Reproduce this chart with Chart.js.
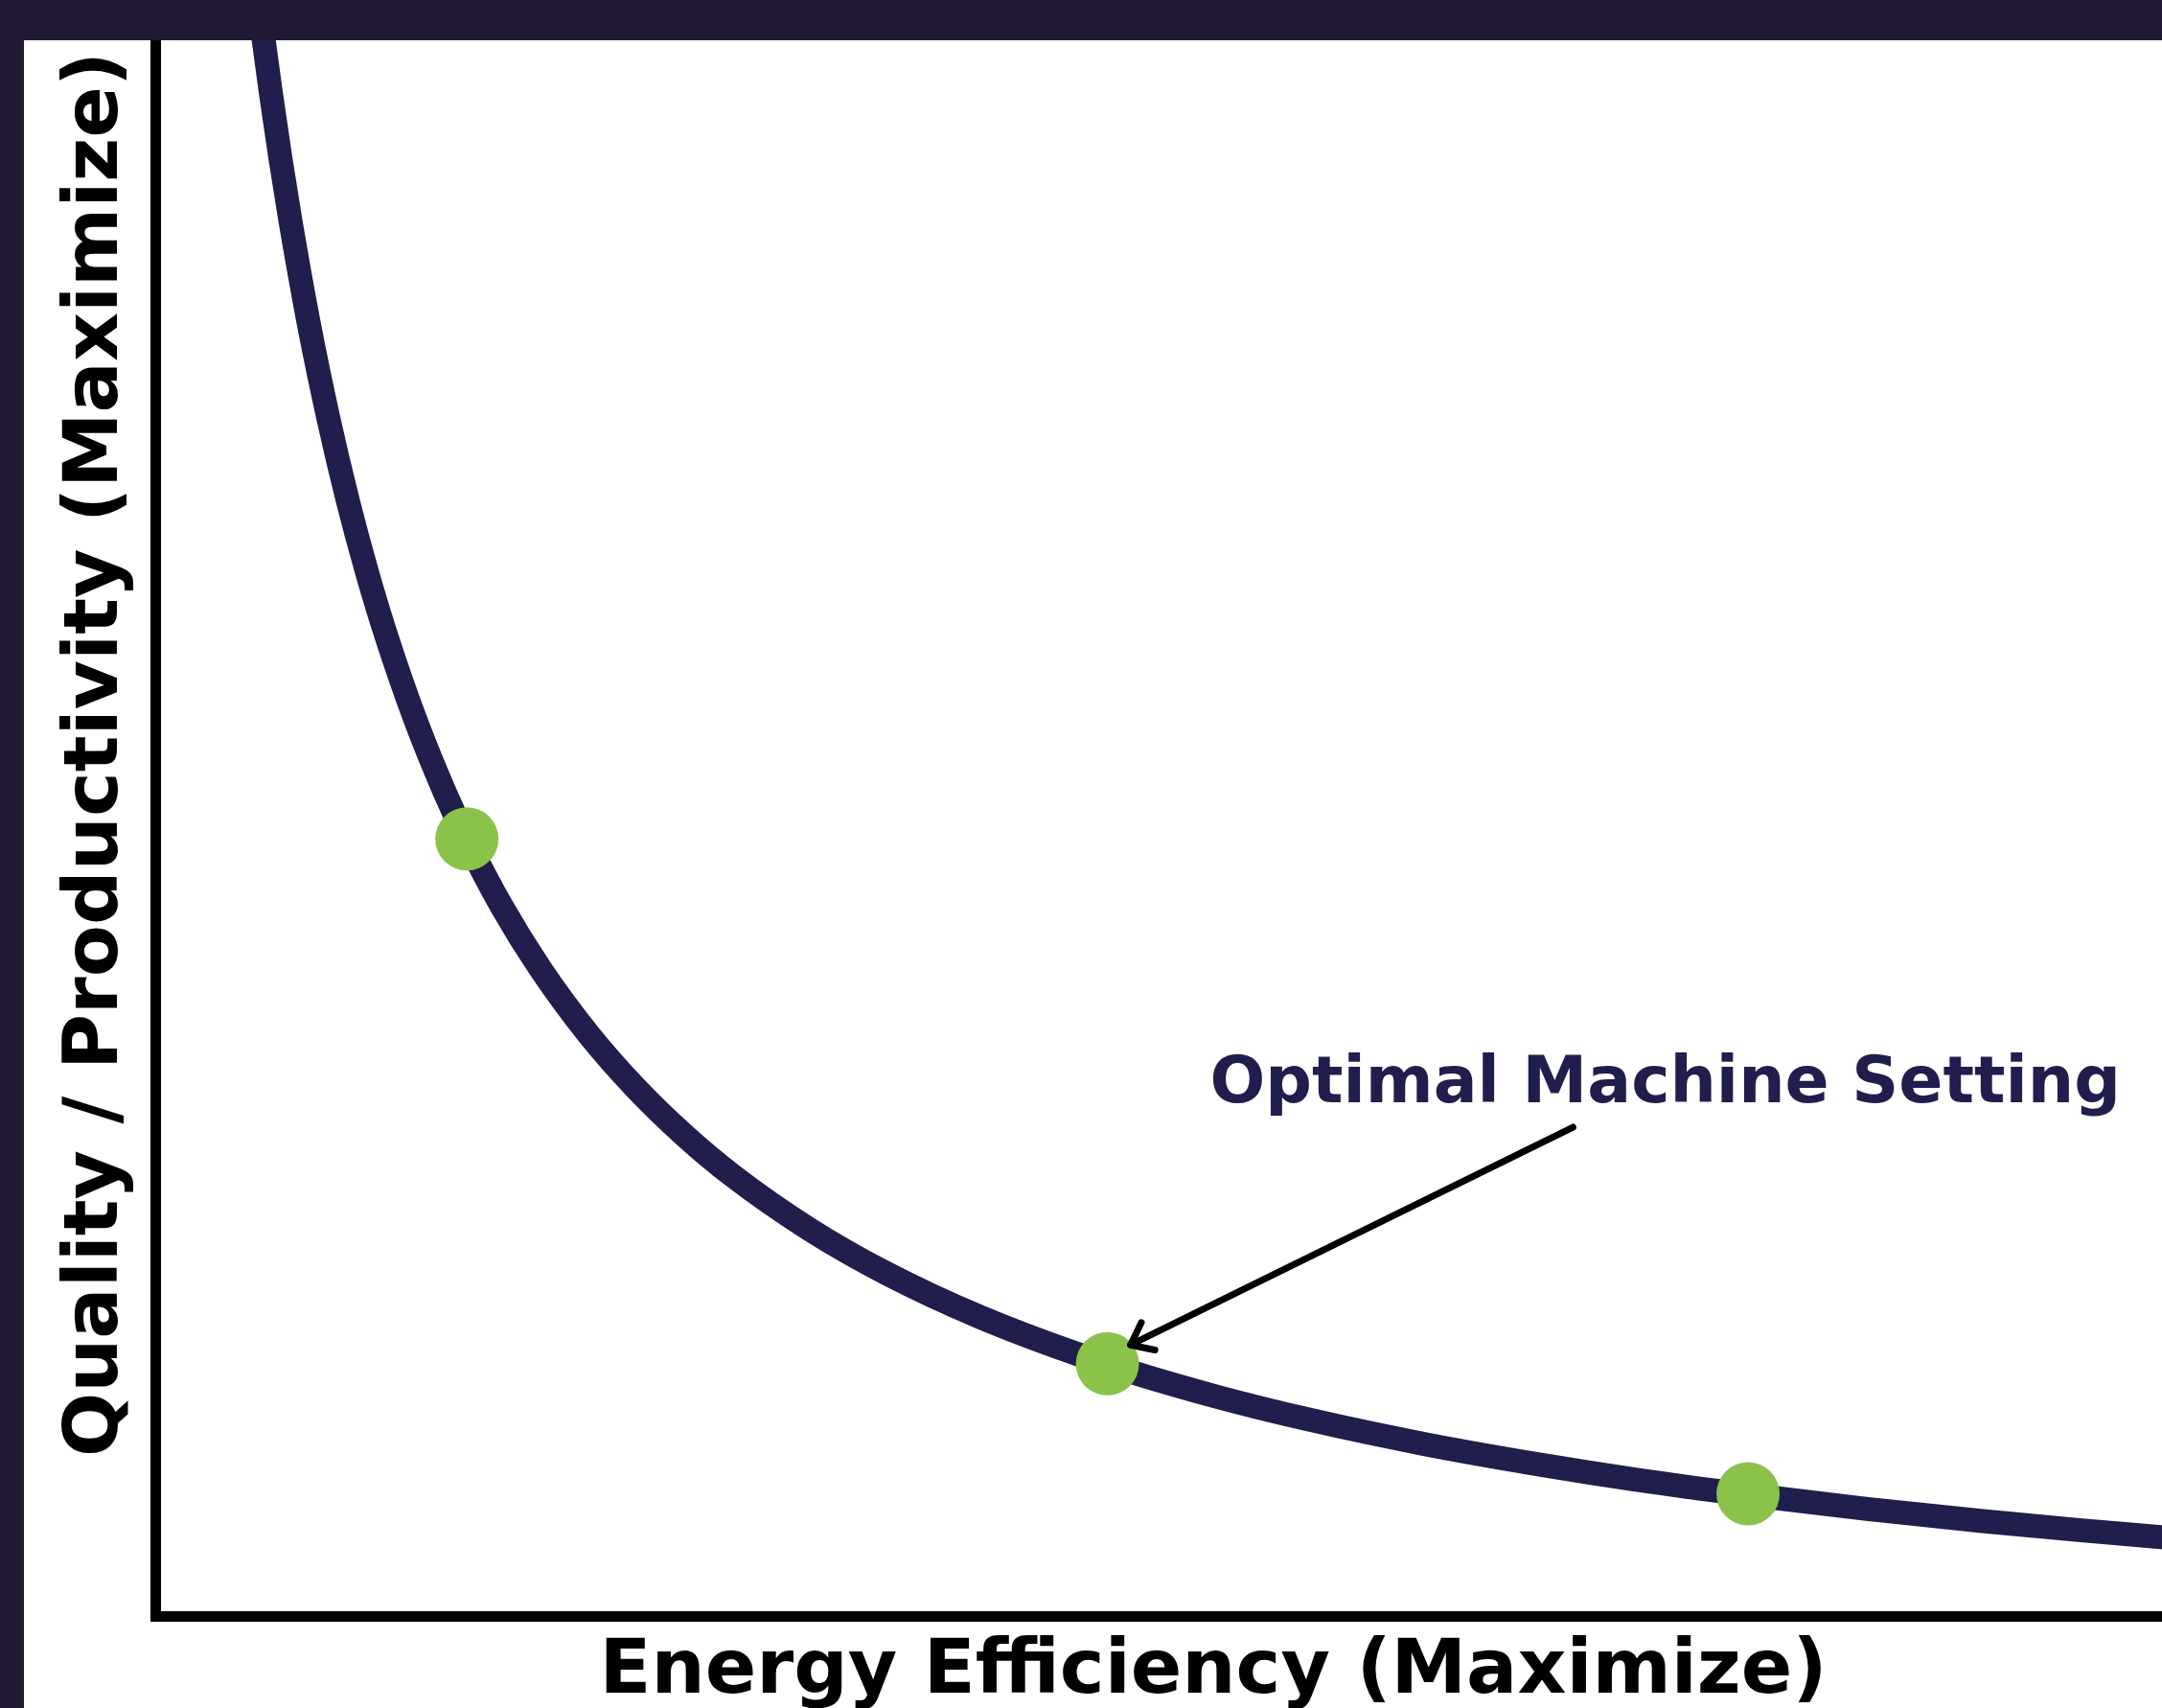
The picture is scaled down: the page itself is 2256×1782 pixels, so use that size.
<!DOCTYPE html>
<html>
<head>
<meta charset="utf-8">
<script src="https://cdn.jsdelivr.net/npm/chart.js@4.4.1/dist/chart.umd.min.js"></script>
<style>
    html, body { margin: 0; padding: 0; }
    body { width: 2256px; height: 1782px; background: #221a33; overflow: hidden; position: relative; }
    #frame { position: absolute; left: 25px; top: 42px; right: 0; bottom: 0; background: #ffffff; overflow: hidden; }
    #tradeoff { position: absolute; left: 0; top: -250px; }
</style>
</head>
<body>
<div id="frame">
    <canvas id="tradeoff" width="2500" height="1990"></canvas>
</div>
<script>
// trade-off curve (arbitrary units, axes 0..11)
const curveX = [0.45, 0.50, 0.55, 0.60, 0.65, 0.70, 0.80, 0.90, 1.00, 1.10, 1.20, 1.35, 1.50, 1.62, 1.80, 2.00,
    2.25, 2.50, 2.75, 3.00, 3.40, 3.80, 4.30, 4.95, 5.50, 6.00, 6.60, 7.20, 7.70, 8.28, 8.90, 9.50, 10.00, 10.50, 11.00];
const curveY = [11.225, 10.680, 10.183, 9.730, 9.310, 8.926, 8.238, 7.645, 7.124, 6.666, 6.260, 5.728, 5.272, 4.953, 4.532, 4.135,
    3.717, 3.367, 3.069, 2.812, 2.469, 2.188, 1.902, 1.607, 1.406, 1.253, 1.097, 0.966, 0.870, 0.774, 0.683, 0.606, 0.548, 0.496, 0.448];

// highlighted machine settings
const settingX = [1.62, 4.95, 8.28];
const settingY = [4.96, 1.61, 0.78];

const xTitle = 'Energy Efficiency (Maximize)';
const yTitle = 'Quality / Productivity (Maximize)';
const noteText = 'Optimal Machine Setting';
const noteAt = { x: 7.85, y: 3.28 };
const arrowFrom = { x: 7.37, y: 3.12 };
const arrowTo = { x: 5.07, y: 1.73 };

const navy = '#1f1e4c';
const green = '#8bc34a';

const annotationPlugin = {
    id: 'annotation',
    afterDatasetsDraw(chart) {
        const { ctx, scales: { x, y } } = chart;
        ctx.save();

        // label
        ctx.font = 'bold 68px "DejaVu Sans"';
        ctx.fillStyle = navy;
        ctx.textAlign = 'center';
        ctx.textBaseline = 'alphabetic';
        ctx.fillText(noteText, x.getPixelForValue(noteAt.x), y.getPixelForValue(noteAt.y));

        // arrow
        const x1 = x.getPixelForValue(arrowFrom.x), y1 = y.getPixelForValue(arrowFrom.y);
        const x2 = x.getPixelForValue(arrowTo.x), y2 = y.getPixelForValue(arrowTo.y);
        const ang = Math.atan2(y1 - y2, x1 - x2);
        const head = 26, spread = 38 * Math.PI / 180;
        ctx.strokeStyle = '#000000';
        ctx.lineWidth = 7;
        ctx.lineCap = 'round';
        ctx.lineJoin = 'round';
        ctx.beginPath();
        ctx.moveTo(x1, y1);
        ctx.lineTo(x2, y2);
        ctx.stroke();
        ctx.beginPath();
        ctx.moveTo(x2 + head * Math.cos(ang - spread), y2 + head * Math.sin(ang - spread));
        ctx.lineTo(x2, y2);
        ctx.lineTo(x2 + head * Math.cos(ang + spread), y2 + head * Math.sin(ang + spread));
        ctx.stroke();

        ctx.restore();
    }
};

const axisTitleFont = { family: '"DejaVu Sans"', size: 79, weight: 'bold', lineHeight: 1 };

new Chart(document.getElementById('tradeoff'), {
    type: 'line',
    data: {
        datasets: [
            {
                type: 'scatter',
                label: 'Settings',
                data: settingX.map((v, i) => ({ x: v, y: settingY[i] })),
                pointRadius: 33,
                pointHoverRadius: 33,
                pointBackgroundColor: green,
                pointBorderWidth: 0,
                order: 0
            },
            {
                label: 'Trade-off',
                data: curveX.map((v, i) => ({ x: v, y: curveY[i] })),
                borderColor: navy,
                borderWidth: 25,
                pointRadius: 0,
                cubicInterpolationMode: 'monotone',
                fill: false,
                order: 1
            }
        ]
    },
    options: {
        responsive: false,
        animation: false,
        devicePixelRatio: 1,
        layout: { padding: { left: 0, top: 96, right: 155, bottom: 0 } },
        plugins: {
            legend: { display: false },
            tooltip: { enabled: false }
        },
        scales: {
            x: {
                type: 'linear',
                position: 'bottom',
                min: 0,
                max: 11,
                grid: { display: false, drawTicks: false },
                border: { display: true, color: '#000000', width: 11 },
                ticks: { display: false },
                title: { display: true, text: xTitle, color: '#000000', font: axisTitleFont, padding: { top: 0, bottom: -3 } },
                afterFit(scale) { scale.height = 96; }
            },
            y: {
                type: 'linear',
                position: 'left',
                min: 0,
                max: 11,
                grid: { display: false, drawTicks: false },
                border: { display: true, color: '#000000', width: 11 },
                ticks: { display: false },
                title: { display: true, text: yTitle, color: '#000000', font: axisTitleFont, padding: { top: 37, bottom: 0 } },
                afterFit(scale) { scale.width = 137; }
            }
        }
    },
    plugins: [annotationPlugin]
});
</script>
</body>
</html>
